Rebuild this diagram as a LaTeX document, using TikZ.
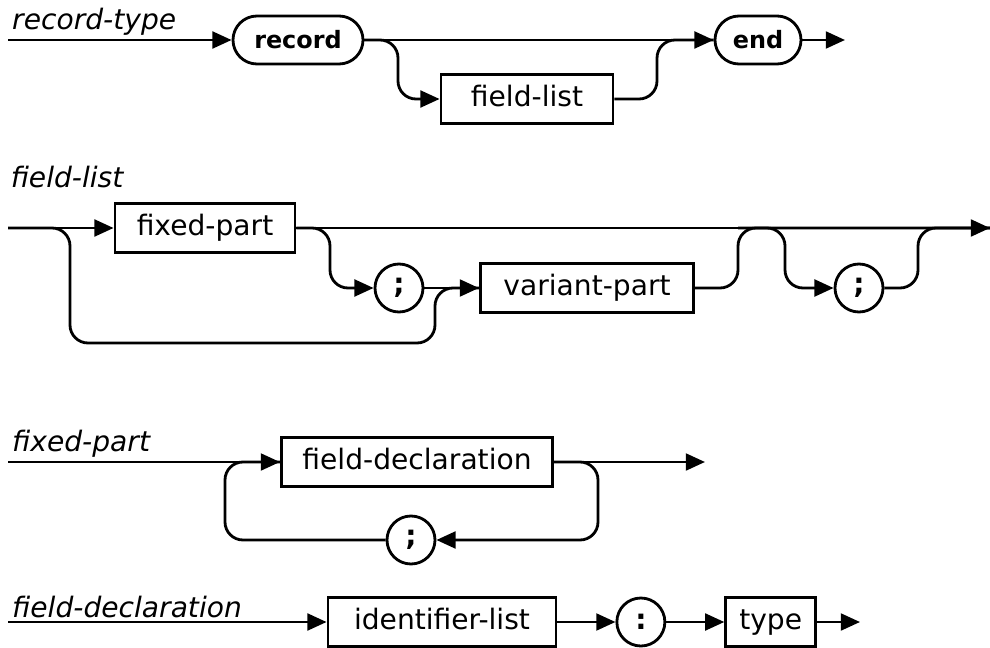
\documentclass[tikz,border=0pt]{standalone}
\usepackage{fontspec}
\setmainfont{DejaVu Sans}
\usetikzlibrary{arrows.meta, positioning}

\begin{document}
\begin{tikzpicture}[
          x=0.025cm, y=-0.025cm,
          line width=2pt,
          keyword/.style={rectangle, draw, rounded corners=0.6cm, font=\fontsize{17}{20}\selectfont\bfseries, minimum height=1.2cm, inner xsep=6pt},
          nonterm/.style={rectangle, draw, sharp corners, font=\fontsize{20}{24}\selectfont, minimum height=1.22cm, inner xsep=8pt, text height=15pt, text depth=4.5pt},
          sym/.style={circle, draw, font=\fontsize{20}{24}\selectfont\bfseries, minimum size=1.2cm, inner sep=0pt},
          rulename/.style={font=\fontsize{20}{24}\selectfont\itshape, inner sep=1pt},
          arrow/.style={-{Triangle[length=4.8mm, width=4.2mm]}},
          conn/.style={rounded corners=0.45cm},
          node distance=1.3cm
      ]
      \useasboundingbox (0,0) rectangle (990,648);

      % record-type
      \coordinate (s1) at (8,40);
      \node[rulename, above right=1pt and 1pt of s1] (rtlabel) {record-type};
      \node[keyword, minimum width=3.25cm] (record) at (298,40) {record};
      \node[nonterm, minimum width=4.3cm] (flbox) at (527,99) {field-list};
      \node[keyword, minimum width=2.15cm] (end) at (758,40) {end};
      \coordinate (e1) at (845,40);
      \coordinate (j1a) at (398,40);
      \coordinate (j1b) at (657,40);

      \draw[arrow] (s1) -- (record);
      \draw[arrow] (record) -- (end);
      \draw[arrow, conn] (record.east) -- (j1a) |- (flbox.west);
      \draw[conn] (flbox.east) -| (j1b) -- (end.west);
      \draw[arrow] (end) -- (e1);

      % field-list
      \coordinate (s2) at (8,228);
      \node[rulename, anchor=west] (fllabel) at (8,177) {field-list};
      \node[nonterm, minimum width=4.5cm] (fpbox) at (205,228) {fixed-part};
      \node[sym] (semi1) at (399,288) {;};
      \node[nonterm, minimum width=5.33cm] (vpbox) at (587,288) {variant-part};
      \node[sym] (semi2) at (859,288) {;};
      \coordinate (e2) at (990,228);
      \coordinate (j2a) at (330,228);
      \coordinate (j2b) at (738,228);
      \coordinate (j2c) at (785,228);
      \coordinate (j2d) at (918,228);
      \coordinate (by1) at (70,343);
      \coordinate (by2) at (435,343);

      \draw[arrow] (s2) -- (fpbox);
      \draw[arrow] (fpbox) -- (e2);
      \draw[conn] (s2) -| (by1) -- (by2) |- (vpbox.west);
      \draw[arrow, conn] (fpbox.east) -- (j2a) |- (semi1.west);
      \draw[arrow] (semi1) -- (vpbox);
      \draw[conn] (vpbox.east) -| (j2b) -- (e2);
      \draw[arrow, conn] (j2b) -- (j2c) |- (semi2.west);
      \draw[conn] (semi2.east) -| (j2d) -- (e2);

      % fixed-part
      \coordinate (s3) at (8,462);
      \node[rulename, above right=1pt and 1pt of s3] (fplabel) {fixed-part};
      \node[nonterm, minimum width=6.78cm] (fdbox) at (417,462) {field-declaration};
      \node[sym] (semi3) at (411,540) {;};
      \coordinate (e3) at (705,462);
      \coordinate (l3a) at (225,462);
      \coordinate (l3b) at (598,462);

      \draw[arrow] (s3) -- (fdbox);
      \draw[arrow] (fdbox) -- (e3);
      \draw[arrow, conn] (fdbox.east) -- (l3b) |- (semi3.east);
      \draw[conn] (semi3.west) -| (l3a) -- (fdbox.west);

      % field-declaration
      \coordinate (s4) at (8,622);
      \node[rulename, above right=1pt and 1pt of s4] (fdlabel) {field-declaration};
      \node[nonterm, minimum width=5.7cm] (idbox) at (442,622) {identifier-list};
      \node[sym, right=1.45cm of idbox] (colon) {:};
      \node[nonterm, minimum width=2.25cm, right=1.45cm of colon] (typebox) {type};
      \coordinate (e4) at (860,622);

      \draw[arrow] (s4) -- (idbox);
      \draw[arrow] (idbox) -- (colon);
      \draw[arrow] (colon) -- (typebox);
      \draw[arrow] (typebox) -- (e4);

\end{tikzpicture}
\end{document}
